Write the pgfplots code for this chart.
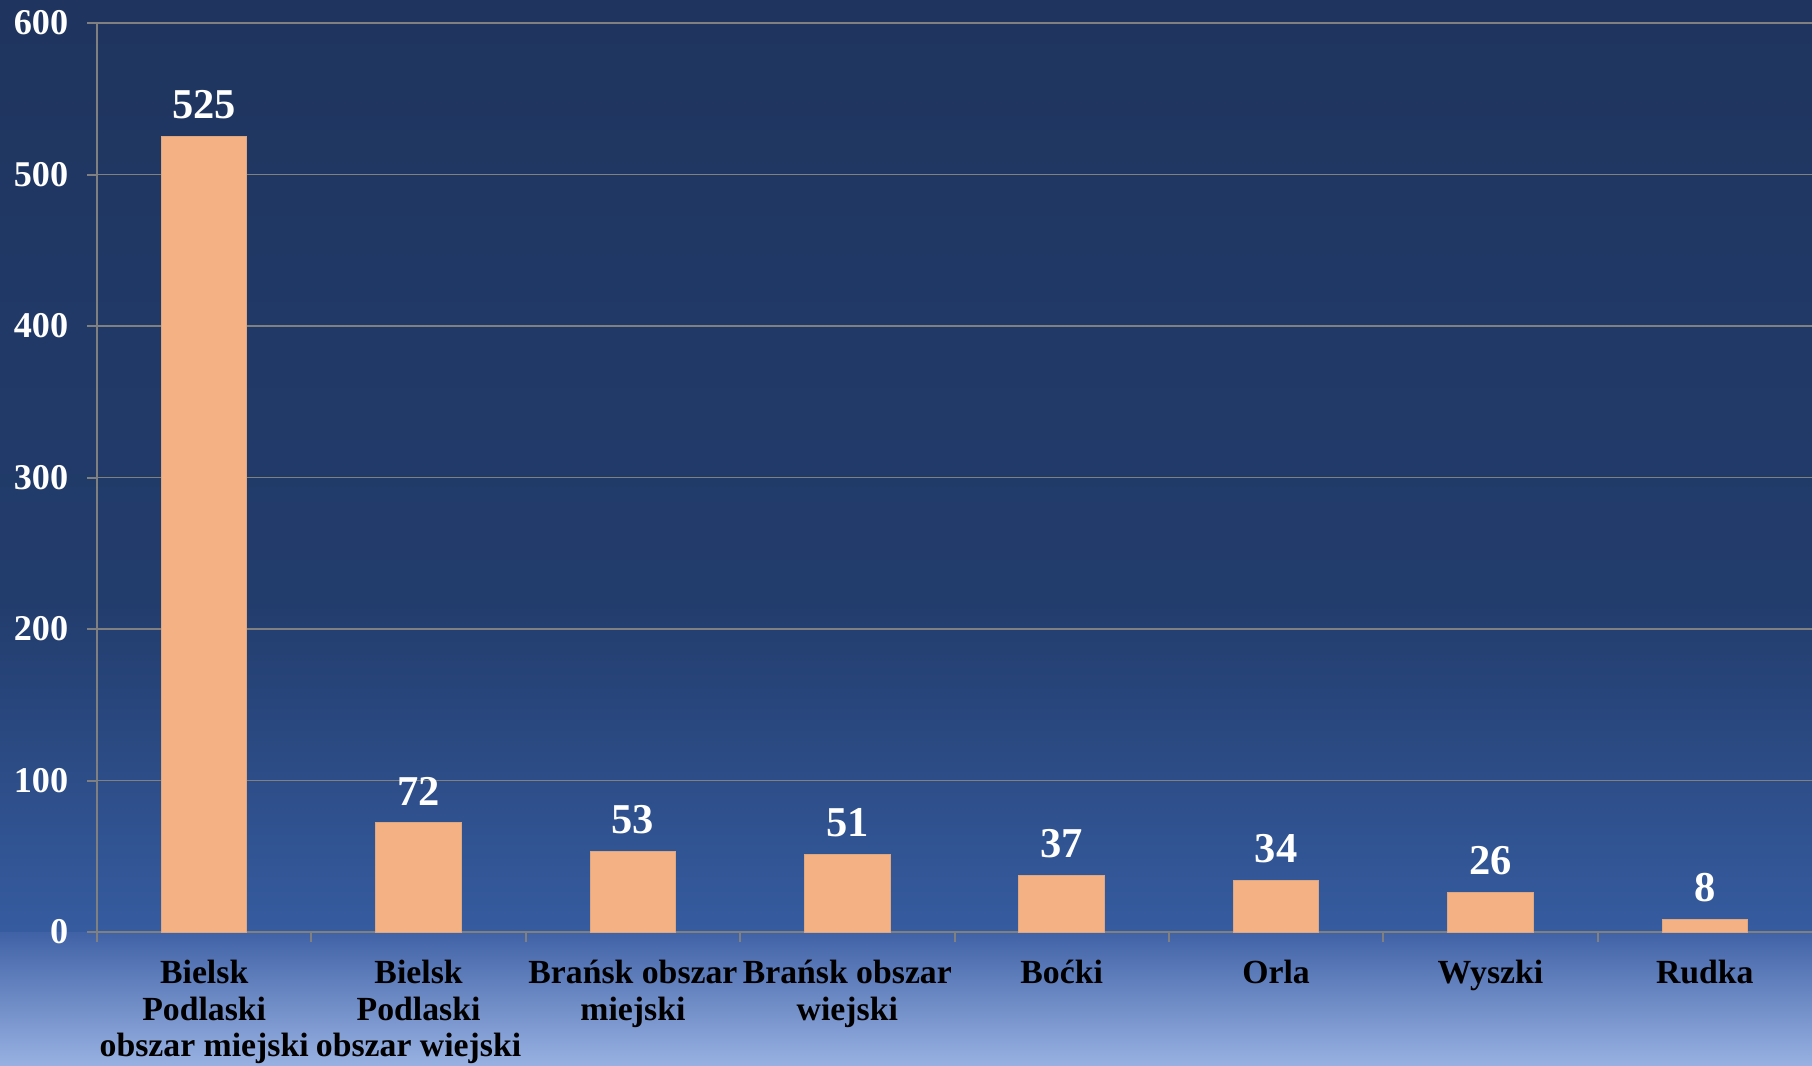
\documentclass[border=0pt]{standalone}
\usepackage{pgfplots}
\pgfplotsset{compat=1.18}
\usepackage{fontspec}
\setmainfont{Liberation Serif}
\definecolor{barc}{RGB}{244,177,131}
\definecolor{bg1}{RGB}{31,53,95}
\definecolor{bg2}{RGB}{34,60,108}
\definecolor{bg3}{RGB}{54,92,160}
\definecolor{bg4}{RGB}{64,98,166}
\definecolor{bg5}{RGB}{152,177,226}
\definecolor{gridc}{RGB}{128,128,128}
\begin{document}
\begin{tikzpicture}
\useasboundingbox (-38.8pt,-53.2pt) rectangle (686pt,372.8pt);
\shade[top color=bg1,bottom color=bg2] (-38.8pt,132pt) rectangle (686pt,372.8pt);
\shade[top color=bg2,bottom color=bg3] (-38.8pt,-0.5pt) rectangle (686pt,132.8pt);
\shade[top color=bg4,bottom color=bg5] (-38.8pt,-53.2pt) rectangle (686pt,0pt);
\begin{axis}[
  at={(0,0)}, anchor=south west,
  scale only axis, width=686pt, height=363.6pt,
  ybar, bar width=34.2pt,
  xmin=-0.5, xmax=7.5, ymin=0, ymax=600,
  ytick={0,100,...,600},
  xtick={0,...,7},
  xticklabels={{Bielsk\\Podlaski\\obszar miejski},{Bielsk\\Podlaski\\obszar wiejski},{Brańsk obszar\\miejski},{Brańsk obszar\\wiejski},{Boćki},{Orla},{Wyszki},{Rudka}},
  minor xtick={-0.5,0.5,...,6.5},
  major x tick style={draw=none},
  axis lines*=left,
  axis line style={gridc, line width=0.8pt},
  tick align=outside,
  major tick length=4pt, minor tick length=4pt,
  tick style={gridc, line width=0.8pt},
  ymajorgrids, grid style={gridc, line width=0.6pt},
  /pgf/number format/assume math mode=true,
  yticklabel style={text=white, font=\fontsize{14.5}{16}\selectfont\bfseries, xshift=-4pt},
  xticklabel style={text=black, align=center, font=\fontsize{13.5}{14.7}\selectfont\bfseries, anchor=north, yshift=-3.6pt},
  nodes near coords,
  every node near coord/.append style={text=white, font=\fontsize{17}{18}\selectfont\bfseries, yshift=3.5pt},
]
\addplot[fill=barc, draw=barc!80!gray, line width=0.4pt] coordinates {(0,525) (1,72) (2,53) (3,51) (4,37) (5,34) (6,26) (7,8)};
\end{axis}
\end{tikzpicture}
\end{document}
